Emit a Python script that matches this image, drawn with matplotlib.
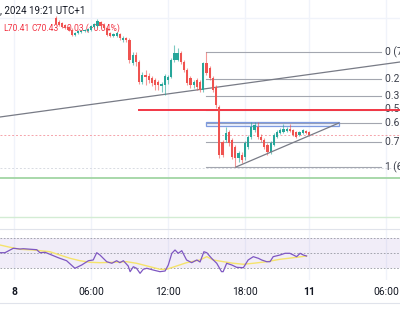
import numpy as np
import matplotlib.pyplot as plt
from matplotlib.patches import Rectangle

# 15-minute candles, x = bar index counted from 00:00 of the first day
bar_idx = np.arange(13, 93)
opens = [72.77, 72.69, 72.67, 72.63, 72.59, 72.53, 72.43, 72.47, 72.49, 72.51,
         72.51, 72.53, 72.59, 72.61, 72.69, 72.63, 72.57, 72.47, 72.41, 72.41,
         72.45, 72.33, 72.37, 72.33, 71.87, 72.03, 71.89, 71.49, 71.63, 71.61,
         71.57, 71.53, 71.49, 71.41, 71.43, 71.53, 71.59, 71.93, 71.93, 72.07,
         71.89, 71.73, 71.57, 71.43, 71.53, 71.49, 71.33, 71.87, 71.77, 71.57,
         71.39, 70.99, 70.29, 70.33, 70.49, 70.33, 70.19, 69.97, 70.03, 69.99,
         70.19, 70.39, 70.53, 70.59, 70.39, 70.33, 70.23, 70.09, 70.23, 70.39,
         70.47, 70.49, 70.51, 70.55, 70.53, 70.49, 70.43, 70.47, 70.51, 70.49]
highs = [72.81, 72.73, 72.69, 72.65, 72.61, 72.57, 72.49, 72.53, 72.53, 72.55,
         72.57, 72.63, 72.67, 72.75, 72.71, 72.67, 72.59, 72.49, 72.47, 72.49,
         72.47, 72.41, 72.39, 72.37, 72.09, 72.09, 71.93, 71.69, 71.73, 71.67,
         71.61, 71.57, 71.53, 71.49, 71.65, 71.63, 71.97, 72.23, 72.17, 72.11,
         71.93, 71.77, 71.61, 71.53, 71.57, 71.53, 71.89, 72.09, 71.81, 71.61,
         71.43, 71.03, 70.33, 70.59, 70.53, 70.37, 70.23, 70.11, 70.09, 70.31,
         70.43, 70.69, 70.69, 70.69, 70.45, 70.37, 70.27, 70.31, 70.47, 70.53,
         70.57, 70.65, 70.59, 70.65, 70.55, 70.51, 70.51, 70.55, 70.53, 70.51]
lows = [72.63, 72.61, 72.57, 72.55, 72.51, 72.41, 72.41, 72.45, 72.47, 72.49,
        72.49, 72.51, 72.57, 72.59, 72.57, 72.55, 72.41, 72.39, 72.39, 72.39,
        72.33, 72.29, 72.29, 71.87, 71.83, 71.81, 71.45, 71.45, 71.43, 71.47,
        71.41, 71.33, 71.33, 71.29, 71.23, 71.45, 71.57, 71.89, 71.91, 71.85,
        71.69, 71.43, 71.37, 71.37, 71.33, 71.29, 71.29, 71.63, 71.53, 71.29,
        70.97, 69.97, 69.99, 70.29, 70.21, 69.95, 69.79, 69.89, 69.87, 69.93,
        70.15, 70.35, 70.49, 70.35, 70.29, 70.15, 70.03, 70.05, 70.21, 70.37,
        70.45, 70.47, 70.49, 70.49, 70.41, 70.37, 70.41, 70.45, 70.45, 70.41]
closes = [72.65, 72.63, 72.59, 72.57, 72.53, 72.43, 72.47, 72.51, 72.51, 72.53,
          72.55, 72.61, 72.65, 72.71, 72.61, 72.57, 72.43, 72.41, 72.45, 72.47,
          72.37, 72.37, 72.33, 71.93, 72.03, 71.89, 71.49, 71.63, 71.59, 71.53,
          71.47, 71.43, 71.43, 71.45, 71.61, 71.59, 71.93, 72.07, 72.07, 71.89,
          71.73, 71.47, 71.43, 71.49, 71.39, 71.33, 71.87, 71.67, 71.57, 71.33,
          71.03, 70.03, 70.03, 70.47, 70.27, 69.99, 69.97, 70.07, 69.93, 70.27,
          70.39, 70.59, 70.63, 70.39, 70.33, 70.19, 70.09, 70.27, 70.43, 70.49,
          70.53, 70.55, 70.55, 70.51, 70.43, 70.39, 70.49, 70.53, 70.47, 70.43]

# RSI and its moving average, read at irregular bar positions
rsi_x = [-4.4, -2.8, -0.2, 1.9, 2.9, 7.1, 8.1, 9.7, 11.2, 13.8, 16.4, 19.0, 21.1,
         23.2, 24.7, 25.8, 26.8, 28.9, 30.5, 32.0, 33.0, 34.1, 35.6, 36.2, 37.2,
         38.2, 39.3, 40.3, 41.4, 43.4, 45.5, 47.1, 48.1, 49.2, 50.2, 51.2, 52.3,
         53.8, 55.4, 57.0, 58.0, 59.2, 60.1, 61.6, 63.2, 64.7, 65.2, 66.3, 67.9,
         69.4, 71.5, 73.0, 74.6, 76.2, 77.2, 78.8, 79.8, 80.8, 82.9, 84.5, 86.0,
         87.1, 88.1, 89.2, 90.2, 91.2]
rsi = [50.4, 50.4, 56.3, 55.3, 55.7, 54.4, 50.4, 50.9, 48.3, 43.7, 39.7, 29.6, 34.0,
       39.7, 40.7, 50.4, 47.3, 38.4, 36.3, 39.7, 37.1, 39.7, 32.7, 25.1, 31.7,
       29.6, 22.9, 28.3, 29.6, 27.3, 25.1, 26.0, 34.0, 49.6, 54.0, 49.6, 53.1,
       40.7, 37.1, 40.7, 38.0, 51.7, 50.4, 42.9, 36.3, 25.1, 25.1, 36.3, 34.0,
       30.9, 30.4, 40.7, 45.1, 42.9, 40.7, 38.4, 38.4, 45.1, 47.3, 49.6, 49.6,
       47.3, 45.1, 49.6, 47.3, 46.0]
ma_x = [-4.4, -1.2, 1.9, 6.0, 8.1, 11.2, 14.3, 17.5, 20.6, 23.7, 26.8, 31.0, 35.1,
        38.2, 42.4, 45.5, 47.6, 50.7, 53.8, 58.0, 60.1, 62.1, 65.3, 68.4, 71.5,
        74.6, 78.8, 82.9, 87.1, 91.2]
rsi_ma = [60.7, 57.6, 54.9, 54.0, 53.1, 51.7, 47.3, 42.9, 39.7, 37.6, 37.1, 37.6,
          38.4, 36.3, 31.7, 28.3, 28.3, 32.7, 37.1, 40.7, 45.1, 40.7, 38.4, 36.3,
          35.0, 36.3, 38.4, 41.6, 43.7, 46.0]

# drawings
fib_ratios = [0, 0.236, 0.382, 0.5, 0.618, 0.786, 1]
fib_high, fib_low = 72.09, 69.79
fib_start, fib_end = 60, 114.4
trend_x, trend_y = [-4.36, 120.33], [70.79, 71.89]
tri_x, tri_y = [69.2, 101.3], [69.79, 70.67]
box_x, box_y = [60, 101.3], [70.61, 70.69]
red_level, red_start = 70.94, 39
last_price = 70.43
green_levels = [69.57, 68.79]

header_date = ', 2024 19:21 UTC+1'
header_ohlc = ['L70.41', 'C70.43', '\u22120.03 (\u22120.04%)']

tick_pos = [0, 24, 48, 72, 92, 116]
tick_lbl = ['8', '06:00', '12:00', '18:00', '11', '06:00']

UP, DOWN = '#26a69a', '#ef5350'
GRID = '#f0f3fa'
FS = 7.4
plt.rcParams['font.family'] = ['Roboto', 'DejaVu Sans']

fig = plt.figure(figsize=(4, 3.27), dpi=100)
H = 327
ax = fig.add_axes([0, 1 - 229 / H, 1, 229 / H])
ax2 = fig.add_axes([0, 1 - 280 / H, 1, 51 / H])
xlim = (-4.36, 120.33)

for a in (ax, ax2):
    a.set_xlim(*xlim)
    for s in a.spines.values():
        s.set_visible(False)
    a.set_yticks([])
    a.set_xticks(tick_pos)
    a.grid(axis='x', color=GRID, lw=1)
    a.set_axisbelow(True)
ax.tick_params(axis='x', length=0, labelbottom=False)
ax.set_ylim(68.55, 73.13)

# candles
o, h, l, c = map(np.array, (opens, highs, lows, closes))
cols = np.where(c >= o, UP, DOWN)
ax.vlines(bar_idx, l, h, colors=cols, lw=0.8, alpha=0.6, zorder=4)
ax.bar(bar_idx, np.maximum(np.abs(c - o), 0.012), bottom=np.minimum(o, c),
       width=0.7, color=cols, zorder=5)

# header
ax.text(0.0, 0.955, header_date, transform=ax.transAxes, fontsize=7.0,
        color='#131722', va='center', ha='left')
for xf, s in zip([0.008, 0.08, 0.155], header_ohlc):
    ax.text(xf, 0.877, s, transform=ax.transAxes, fontsize=6.2, color='#f23645',
            va='center', ha='left', zorder=3)

# horizontal lines
ax.axhline(72.77, color=GRID, lw=1, zorder=0)
ax.axhline(last_price, color='#f5a3aa', lw=0.7, ls=(0, (2, 2)), zorder=1)
ax.axhline(69.77, color='#d8dbe2', lw=0.7, ls=(0, (2, 2)), zorder=1)
ax.axhline(green_levels[0], color='#a8d8aa', lw=1.4, zorder=1)
ax.axhline(green_levels[1], color='#d3ecd4', lw=1.0, zorder=1)

# fibonacci retracement
for r in fib_ratios:
    p = fib_high - (fib_high - fib_low) * r
    ax.plot([fib_start, fib_end], [p, p], color='#a3a6af', lw=0.8, zorder=2)
    ax.text(fib_end + 1.3, p, f'{r:g} ({p:.2f})', fontsize=FS, color='#3b3f4a',
            va='center', ha='left', clip_on=True)
ax.plot([red_start, xlim[1]], [red_level, red_level], color='#f23645', lw=1.4, zorder=3)

ax.plot(trend_x, trend_y, color='#787b86', lw=0.9, zorder=3)
ax.plot(tri_x, tri_y, color='#787b86', lw=0.9, zorder=6)
ax.add_patch(Rectangle((box_x[0], box_y[0]), box_x[1] - box_x[0], box_y[1] - box_y[0],
                       facecolor='#2962ff', alpha=0.08, edgecolor='none', zorder=2))
ax.add_patch(Rectangle((box_x[0], box_y[0]), box_x[1] - box_x[0], box_y[1] - box_y[0],
                       facecolor='none', edgecolor='#7e9be0', lw=0.9, zorder=2))

# RSI pane
ax2.set_ylim(14, 82)
ax2.axhspan(30, 70, color='#7e57c2', alpha=0.1, lw=0)
for lv in (30, 50, 70):
    ax2.axhline(lv, color='#9598a1', lw=0.6, ls=(0, (2, 2)))
ax2.plot(ma_x, rsi_ma, color='#f5e36b', lw=1.0)
ax2.plot(rsi_x, rsi, color='#7e57c2', lw=0.9)
ax2.spines['top'].set_visible(True)
ax2.spines['top'].set_color('#e0e3eb')
ax2.spines['top'].set_linewidth(0.8)
ax2.set_xticklabels(tick_lbl, fontsize=FS, color='#131722')
for t in ax2.get_xticklabels():
    if ':' not in t.get_text():
        t.set_fontweight('bold')
ax2.tick_params(axis='x', length=0, pad=5)

fig.add_artist(plt.Line2D([0, 1], [1 - 303 / H] * 2, transform=fig.transFigure,
                          color='#e0e3eb', lw=0.8))

fig.savefig('out.png', dpi=100, facecolor='white')
